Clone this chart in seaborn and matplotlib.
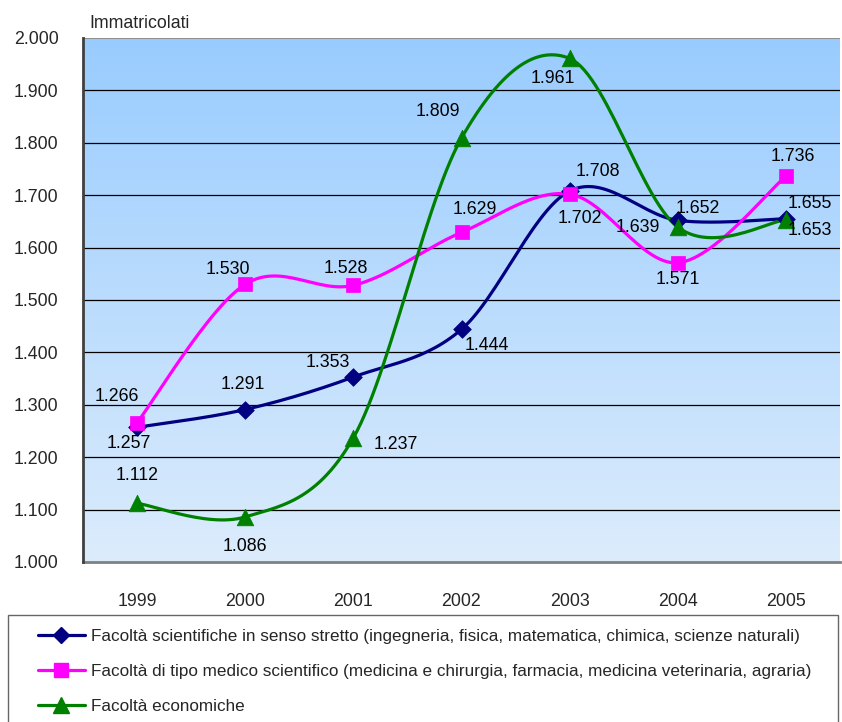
import numpy as np
import matplotlib
matplotlib.use("Agg")
import matplotlib.pyplot as plt
import seaborn as sns
from matplotlib.lines import Line2D
from matplotlib.legend_handler import HandlerLine2D
from matplotlib.ticker import FixedLocator, FuncFormatter

# data
years = ["1999", "2000", "2001", "2002", "2003", "2004", "2005"]
scientifiche = [1257, 1291, 1353, 1444, 1708, 1652, 1655]
medico = [1266, 1530, 1528, 1629, 1702, 1571, 1736]
economiche = [1112, 1086, 1237, 1809, 1961, 1639, 1653]

labels = [
    "Facoltà scientifiche in senso stretto (ingegneria, fisica, matematica, chimica, scienze naturali)",
    "Facoltà di tipo medico scientifico (medicina e chirurgia, farmacia, medicina veterinaria, agraria)",
    "Facoltà economiche",
]

sns.set_style("white")
plt.rcParams["font.family"] = ["Liberation Sans", "DejaVu Sans"]
fs = 12.8

fig = plt.figure(figsize=(8.42, 7.22), dpi=100)
ax = fig.add_axes([83 / 842, 160 / 722, 757 / 842, 524 / 722])

# gradient background
grad = np.linspace(0, 1, 256).reshape(-1, 1)
top = np.array([153, 204, 255]) / 255
bot = np.array([220, 236, 252]) / 255
img = top * (1 - grad[..., None]) + bot * grad[..., None]
ax.imshow(img, extent=[0, 1, 0, 1], transform=ax.transAxes, aspect="auto", zorder=0)


def smooth(y):
    # Excel-style smoothed line (cubic bezier, 1/6 tension)
    x = np.arange(len(y), dtype=float)
    p = np.column_stack([x, np.asarray(y, dtype=float)])
    out = []
    t = np.linspace(0, 1, 30)[:, None]
    for i in range(len(p) - 1):
        p0 = p[i - 1] if i > 0 else p[i]
        p3 = p[i + 2] if i + 2 < len(p) else p[i + 1]
        c1 = p[i] + (p[i + 1] - p0) / 6
        c2 = p[i + 1] - (p3 - p[i]) / 6
        seg = ((1 - t) ** 3) * p[i] + 3 * ((1 - t) ** 2) * t * c1 + 3 * (1 - t) * t ** 2 * c2 + t ** 3 * p[i + 1]
        out.append(seg if i == 0 else seg[1:])
    s = np.vstack(out)
    return s[:, 0], s[:, 1]


series = [
    (scientifiche, "#000080", "D", 9),
    (medico, "#FF00FF", "s", 10),
    (economiche, "#008000", "^", 12),
]

xs = np.arange(len(years))
for vals, col, mk, ms in series:
    sx, sy = smooth(vals)
    ax.plot(sx, sy, color=col, lw=2.3, zorder=3, solid_capstyle="round")
    sns.scatterplot(x=xs, y=vals, marker=mk, color=col, s=ms ** 2, edgecolor=col,
                    linewidth=0.5, ax=ax, zorder=4, legend=False)

# label offsets in pixels (dx right, dy down)
offs = [
    [(-8, 16), (-2, -25), (-26, -15), (25, 16), (28, -20), (20, -12), (24, -15)],
    [(-20, -26), (-17, -15), (-8, -17), (13, -23), (10, 24), (0, 17), (7, -20)],
    [(0, -28), (0, 30), (42, 7), (-24, -27), (-17, 20), (-40, 0), (24, 11)],
]
fmt = lambda v: f"{v:,}".replace(",", ".")
for (vals, col, mk, ms), off in zip(series, offs):
    for i, v in enumerate(vals):
        dx, dy = off[i]
        ax.annotate(fmt(v), (i, v), xytext=(dx * 0.72, -dy * 0.72), textcoords="offset points",
                    ha="center", va="center", fontsize=fs, color="black", zorder=5)

ax.set_xlim(-0.5, len(years) - 0.5)
ax.set_ylim(1000, 2000)
ax.set_yticks(np.arange(1000, 2001, 100))
ax.yaxis.set_major_formatter(FuncFormatter(lambda v, p: fmt(int(v))))
ax.set_xticks(xs)
ax.set_xticklabels(years)
ax.xaxis.set_minor_locator(FixedLocator(np.arange(-0.5, len(years), 1)))
ax.tick_params(axis="x", which="major", length=0, pad=22, labelsize=fs)
ax.tick_params(axis="x", which="minor", length=6, width=1.5, color="#808080", direction="out")
ax.tick_params(axis="y", length=6, width=1.2, color="#404040", direction="out", pad=11.5, labelsize=fs)
ax.grid(False)
for v in np.arange(1100, 2000, 100):
    ax.axhline(v, color="black", lw=0.9, zorder=1)
ax.axhline(2000, color="#909090", lw=1.5, zorder=1)

for s in ["top", "right"]:
    ax.spines[s].set_visible(False)
ax.spines["left"].set_color("#404040")
ax.spines["left"].set_linewidth(2)
ax.spines["bottom"].set_color("#808080")
ax.spines["bottom"].set_linewidth(2)
ax.spines["left"].set_zorder(6)

ax.text(0.009, 1.012, "Immatricolati", transform=ax.transAxes, ha="left", va="bottom", fontsize=fs)


class OffsetHandler(HandlerLine2D):
    # draw the legend sample only in the right part of the handle box
    def get_xdata(self, legend, xdescent, ydescent, width, height, fontsize):
        x0 = -xdescent + 0.26 * width
        x1 = -xdescent + width
        return np.array([x0, x1]), np.array([(x0 + x1) / 2])


handles = [Line2D([0], [0], color=c, lw=2.3, marker=m, markersize=ms * 0.95, markeredgecolor=c)
           for _, c, m, ms in series]
leg = fig.legend(handles, labels, loc="upper left", bbox_to_anchor=(8 / 842, 0, 830 / 842, 107 / 722),
                 mode="expand", frameon=True, fontsize=12.3, handlelength=3.7, handletextpad=0.35,
                 labelspacing=1.17, borderpad=0.8, borderaxespad=0, fancybox=False, edgecolor="#404040",
                 handler_map={Line2D: OffsetHandler()})
leg.get_frame().set_linewidth(1)

fig.savefig("out.png", dpi=100, facecolor="white")
